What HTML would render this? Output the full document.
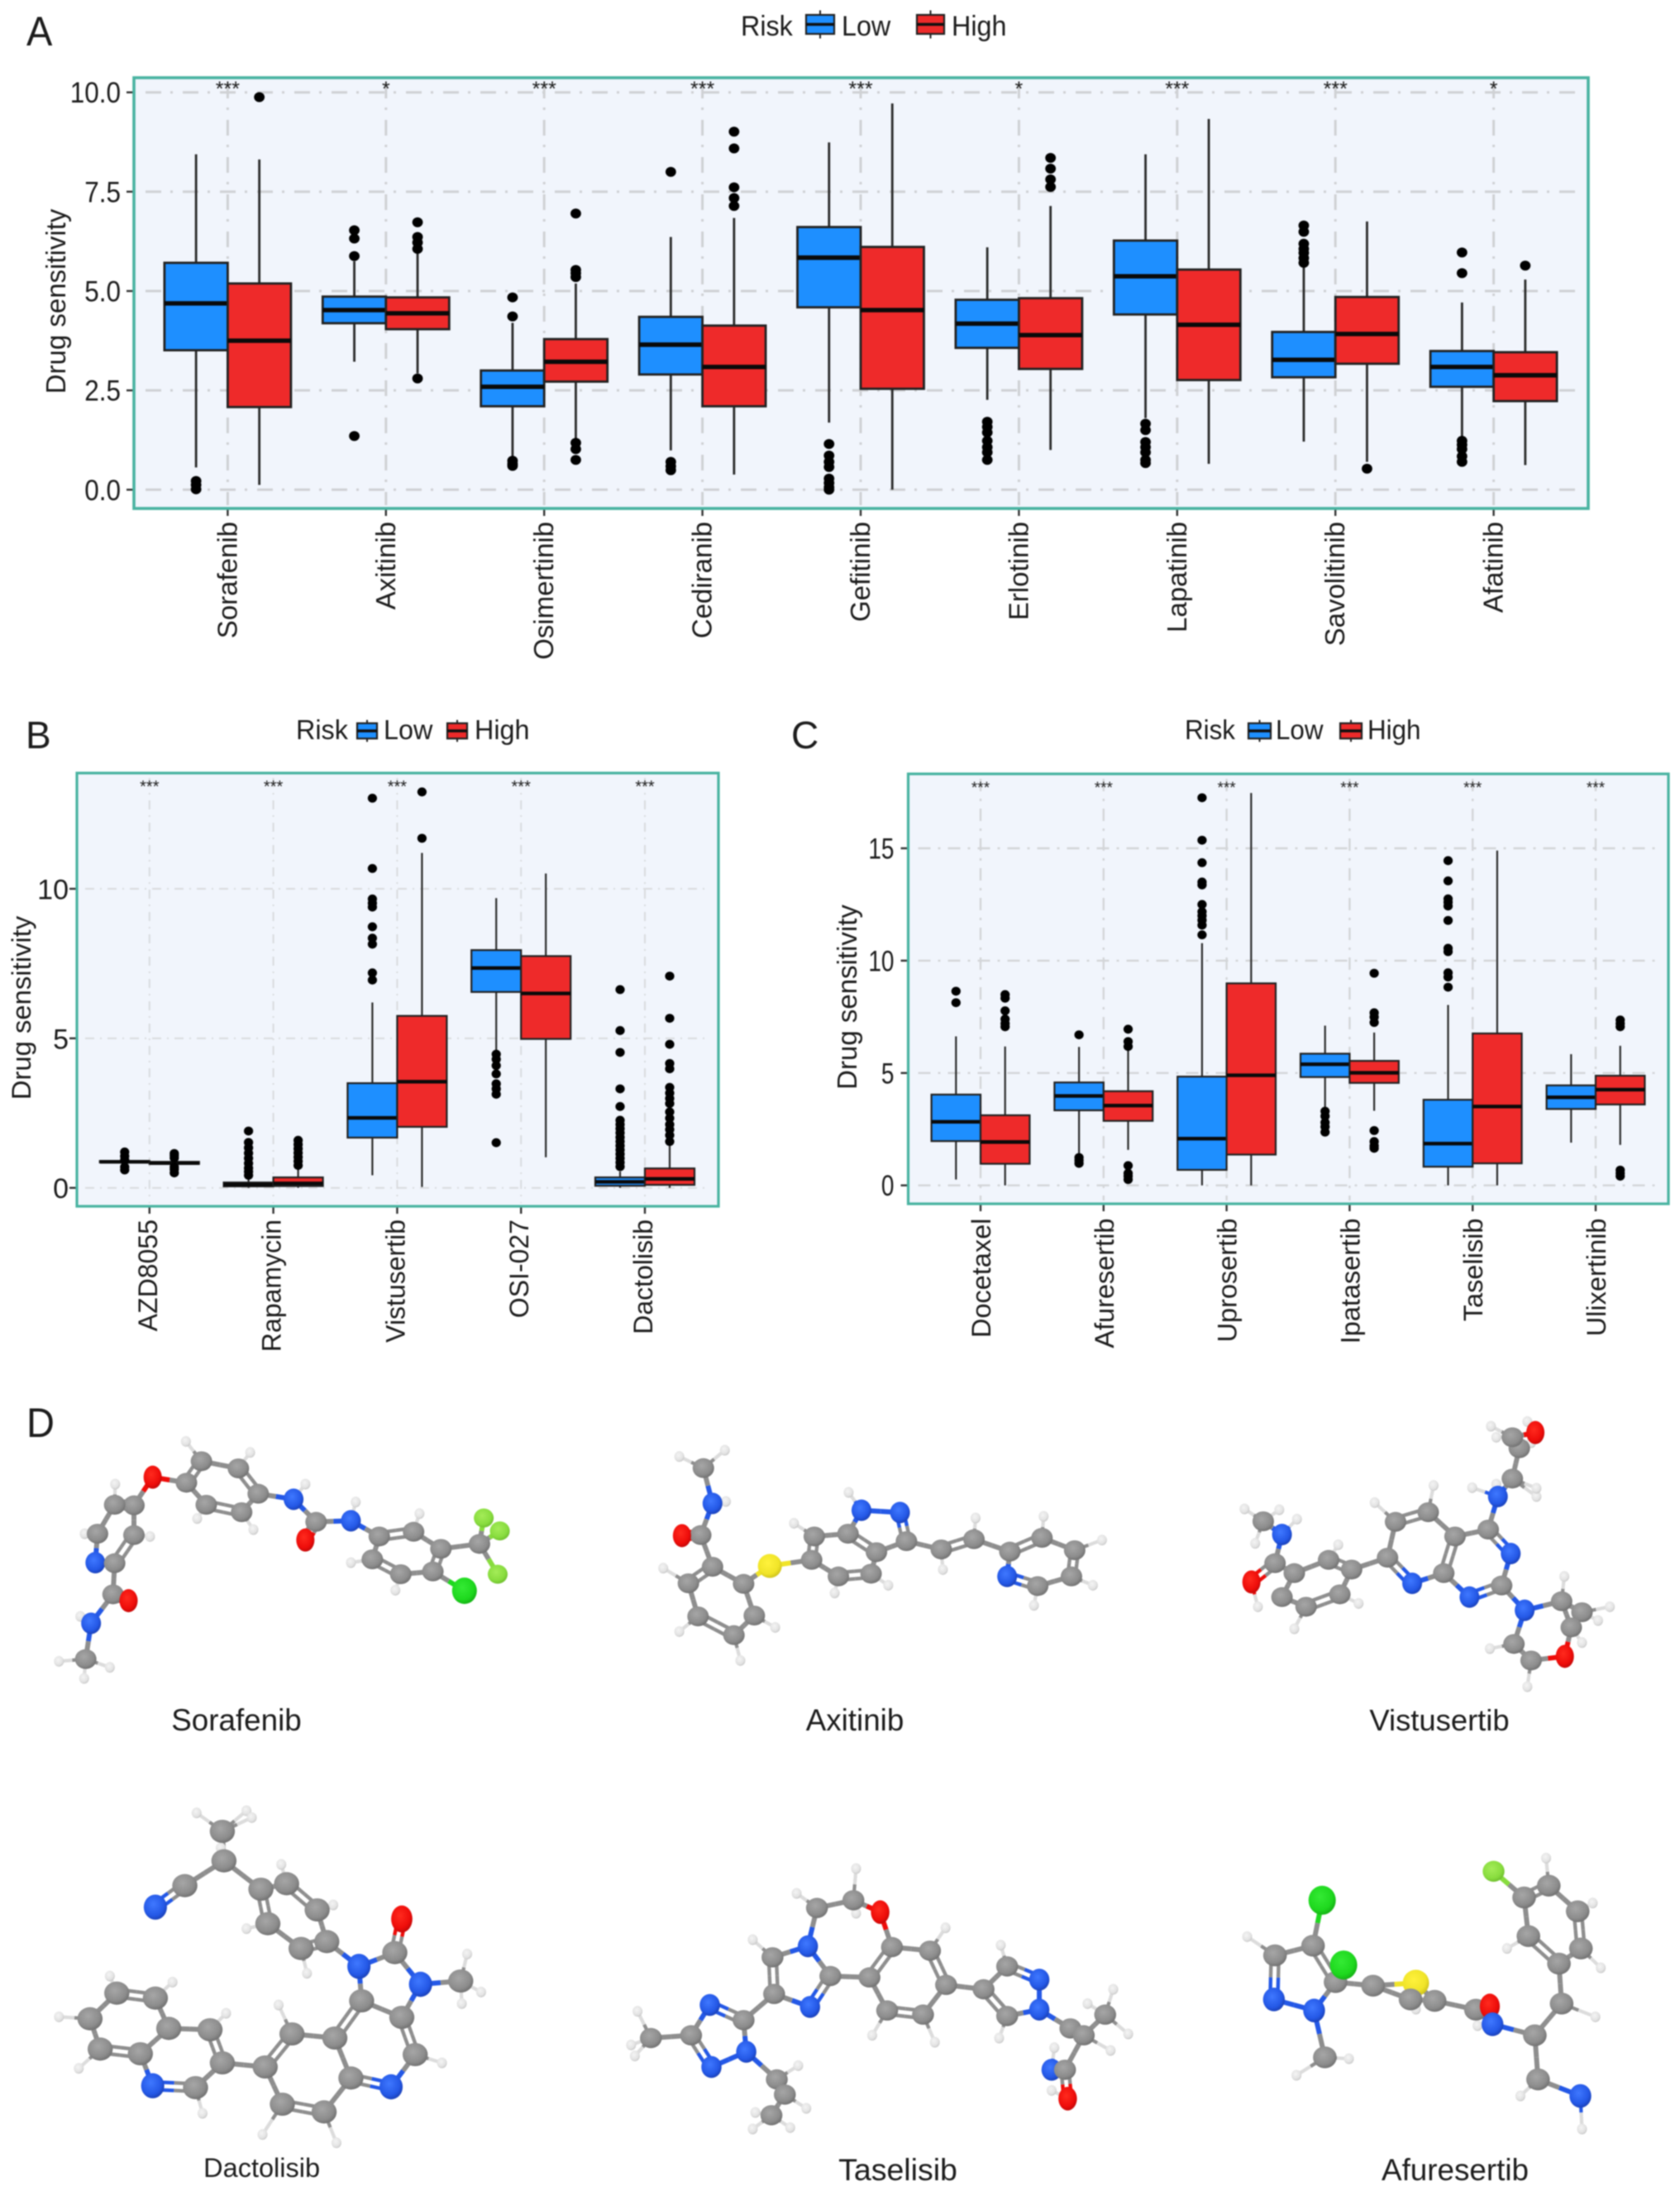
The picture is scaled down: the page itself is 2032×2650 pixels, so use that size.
<!DOCTYPE html>
<html lang="en">
<head>
<meta charset="utf-8">
<title>Drug sensitivity by risk group and molecular structures</title>
<style>
html,body{margin:0;padding:0;background:#fff;}
#figure{display:block;width:2032px;height:2650px;font-family:"Liberation Sans",sans-serif;filter:blur(0.7px);}
text{font-family:"Liberation Sans",sans-serif;fill:#1c1c1c;}
</style>
</head>
<body>
<svg id="figure" xmlns="http://www.w3.org/2000/svg" width="2032" height="2650" viewBox="0 0 2032 2650">
<defs>
<radialGradient id="g-C" cx="42%" cy="38%" r="65%"><stop offset="0" stop-color="#a6a6a6"/><stop offset="0.7" stop-color="#8c8c8c"/><stop offset="1" stop-color="#6e6e6e"/></radialGradient>
<radialGradient id="g-N" cx="42%" cy="38%" r="65%"><stop offset="0" stop-color="#3f78ff"/><stop offset="0.7" stop-color="#2458e6"/><stop offset="1" stop-color="#1a3fb4"/></radialGradient>
<radialGradient id="g-O" cx="42%" cy="38%" r="65%"><stop offset="0" stop-color="#ff2a1e"/><stop offset="0.7" stop-color="#ee0d0a"/><stop offset="1" stop-color="#c00808"/></radialGradient>
<radialGradient id="g-F" cx="42%" cy="38%" r="65%"><stop offset="0" stop-color="#a4ec58"/><stop offset="0.7" stop-color="#88dc3e"/><stop offset="1" stop-color="#6cbc2c"/></radialGradient>
<radialGradient id="g-Cl" cx="42%" cy="38%" r="65%"><stop offset="0" stop-color="#34ea34"/><stop offset="0.7" stop-color="#1ed81e"/><stop offset="1" stop-color="#14ae14"/></radialGradient>
<radialGradient id="g-S" cx="42%" cy="38%" r="65%"><stop offset="0" stop-color="#fff23c"/><stop offset="0.7" stop-color="#f0e428"/><stop offset="1" stop-color="#ccc01c"/></radialGradient>
<radialGradient id="g-H" cx="42%" cy="38%" r="65%"><stop offset="0" stop-color="#f4f4f4"/><stop offset="0.7" stop-color="#e2e2e2"/><stop offset="1" stop-color="#c4c4c4"/></radialGradient>
</defs>
<g id="panels"></g>
<g id="molecules"></g>
</svg>
<script>
/* ---------- Panel A data ---------- */
const drugsA = ['Sorafenib','Axitinib','Osimertinib','Cediranib','Gefitinib','Erlotinib','Lapatinib','Savolitinib','Afatinib'];
const sigA = ['***','*','***','***','***','*','***','***','*'];
const ticksA = [0,2.5,5,7.5,10];
const tickLabelsA = ['0.0','2.5','5.0','7.5','10.0'];
/* each row: whisker low, q1, median, q3, whisker high */
const lowA = [[0.56,3.51,4.69,5.71,8.44],[3.22,4.19,4.52,4.86,5.75],[0.8,2.10,2.59,3.0,4.2],[0.99,2.9,3.65,4.35,6.36],[1.69,4.59,5.84,6.61,8.74],[2.26,3.57,4.18,4.78,6.1],[1.8,4.41,5.37,6.27,8.44],[1.21,2.83,3.27,3.97,5.62],[1.28,2.59,3.09,3.49,4.71]];
const highA = [[0.12,2.08,3.75,5.19,8.31],[2.93,4.04,4.44,4.84,5.95],[1.28,2.72,3.22,3.79,5.19],[0.38,2.1,3.09,4.13,6.84],[0,2.54,4.52,6.11,9.72],[1.0,3.04,3.89,4.82,7.14],[0.65,2.76,4.15,5.54,9.33],[0.7,3.17,3.92,4.85,6.75],[0.62,2.23,2.88,3.46,5.29]];
const lowOutA = [[0.22,0.12,0.01],[5.88,6.32,6.53,1.35],[4.84,4.36,0.73,0.65,0.6],[8.0,0.7,0.59,0.49],[1.15,0.86,0.7,0.57,0.28,0.17,0.06,0],[1.71,1.58,1.44,1.23,1.07,0.94,0.75],[1.66,1.5,1.2,1.07,0.94,0.75,0.67],[6.65,6.49,6.19,6.06,5.96,5.83,5.71],[5.97,5.45,1.23,1.13,1.02,0.84,0.7]];
const highOutA = [[9.88],[2.8,6.06,6.22,6.36,6.73],[6.95,5.53,5.45,5.35,1.18,1.02,0.75],[9.01,8.59,7.61,7.34,7.14],[],[8.35,8.08,7.81,7.62],[],[0.53],[5.64]];

/* ---------- Panel B data ---------- */
const drugsB = ['AZD8055','Rapamycin','Vistusertib','OSI-027','Dactolisib'];
const sigB = ['***','***','***','***','***'];
const ticksB = [0,5,10];
const tickLabelsB = ['0','5','10'];
const lowB = [[0.75,0.85,0.87,0.9,1.0],[0,0.05,0.11,0.18,0.35],[0.42,1.68,2.34,3.5,6.2],[4.58,6.55,7.35,7.95,9.69],[0,0.07,0.2,0.35,0.55]];
const highB = [[0.7,0.8,0.83,0.87,1.0],[0,0.06,0.15,0.35,0.62],[0.03,2.04,3.55,5.75,11.2],[1.02,4.98,6.5,7.75,10.51],[0,0.1,0.3,0.65,1.4]];
const lowOutB = [[1.2,1.06,0.93,0.7,0.6],[1.9,1.52,1.34,1.16,0.99,0.82,0.66,0.54,0.42],[13.03,10.68,9.66,9.52,9.39,8.73,8.35,8.15,7.19,6.95],[4.47,4.3,4.09,3.81,3.48,3.31,3.13,1.51],[6.63,5.26,4.53,3.31,2.72,2.26,2.12,1.98,1.84,1.69,1.55,1.41,1.27,1.13,0.99,0.85,0.71]];
const highOutB = [[1.15,1.08,1.0,0.7,0.62,0.5],[1.59,1.45,1.31,1.17,1.03,0.89,0.75],[13.24,11.69],[],[7.08,5.67,4.8,4.16,3.98,3.36,3.17,2.99,2.82,2.54,2.33,2.12,1.95,1.76,1.55]];

/* ---------- Panel C data ---------- */
const drugsC = ['Docetaxel','Afuresertib','Uprosertib','Ipatasertib','Taselisib','Ulixertinib'];
const sigC = ['***','***','***','***','***','***'];
const ticksC = [0,5,10,15];
const tickLabelsC = ['0','5','10','15'];
const lowC = [[0.26,1.97,2.83,4.04,6.63],[1.43,3.34,3.98,4.58,6.16],[0,0.69,2.08,4.84,10.78],[3.36,4.82,5.39,5.86,7.11],[0,0.83,1.86,3.81,8.03],[1.9,3.4,3.92,4.45,5.84]];
const highC = [[0,0.96,1.93,3.12,6.18],[1.58,2.87,3.55,4.19,6.0],[0,1.37,4.9,8.99,17.46],[3.32,4.56,5.01,5.54,6.8],[0,0.98,3.51,6.76,14.9],[1.8,3.6,4.26,4.88,6.21]];
const lowOutC = [[8.64,8.13],[6.7,1.24,1.11,0.98],[17.25,15.36,14.36,13.5,13.37,12.5,12.18,12.0,11.8,11.58,11.15],[3.3,3.08,2.8,2.61,2.37],[14.45,13.55,12.75,12.6,12.43,11.79,10.55,10.4,9.46,9.27,8.82],[]];
const highOutC = [[8.49,8.33,7.77,7.4,7.2,7.06],[6.95,6.4,6.18,0.88,0.54,0.41,0.26],[],[9.44,7.68,7.49,7.25,2.44,1.95,1.76,1.65],[],[7.36,7.2,7.06,0.68,0.54,0.41]];

const SVGNS = 'http://www.w3.org/2000/svg';
function make(tag, parent, attrs){
  const el = document.createElementNS(SVGNS, tag);
  for (const k in attrs) el.setAttribute(k, attrs[k]);
  parent.appendChild(el);
  return el;
}
function label(parent, str, x, y, size, anchor, rot, sx, name){
  const el = make('text', parent, {
    transform:'translate('+x+','+y+') rotate('+rot+') scale('+sx+',1)',
    'font-size':size,'text-anchor':anchor
  });
  el.textContent = str;
  
  
  return el;
}
function legend(parent, c){
  const g = make('g', parent, {});
  
  
  label(g,'Risk',c.riskX,c.base,c.fs,'start',0,c.fsx,'legend-title');
  [['Low','#1e8fff',c.lowKey,c.lowText],['High','#ee2a2a',c.highKey,c.highText]].forEach(function(e){
    const kx = e[2][0], kw = e[2][1], cy = c.keyCy, kh = c.keyH, mid = kx + kw/2;
    const key = make('g', g, {});
    
    
    make('line', key, {x1:mid,x2:mid,y1:cy-kh/2-c.keyW,y2:cy+kh/2+c.keyW,stroke:'#222','stroke-width':2});
    make('rect', key, {x:kx,y:cy-kh/2,width:kw,height:kh,fill:e[1],stroke:'#222','stroke-width':2.2});
    make('line', key, {x1:kx,x2:kx+kw,y1:cy,y2:cy,stroke:'#111','stroke-width':3.4});
    label(g,e[0],e[3],c.base,c.fs,'start',0,c.fsx,'legend-label-' + e[0].toLowerCase());
  });
}
function drawPanel(p){
  const root = document.getElementById('panels');
  const g = make('g', root, {});
  
  
  const y = function(v){ return p.y0 + (p.y1 - p.y0) * (v - p.ticks[0]) / (p.ticks[p.ticks.length-1] - p.ticks[0]); };
  const x = function(i){ return p.x0 + p.step * i; };
  const bg = make('rect', g, {x:p.L,y:p.T,width:p.R-p.L,height:p.B-p.T,fill:'#f1f5fc'});
  
  
  p.ticks.forEach(function(t,i){
    const gl = make('line', g, {x1:p.L+p.gridInset,x2:p.R-p.gridInset,y1:y(t),y2:y(t),stroke:p.gridColor,'stroke-width':p.gridW,'stroke-dasharray':p.dash});
    
    
    make('line', g, {x1:p.L-9,x2:p.L,y1:y(t),y2:y(t),stroke:'#333','stroke-width':2.4});
    label(g,p.labels[i],p.L-p.tickGap,y(t)+p.tickDy,p.tickFs,'end',0,p.tickSx,'y-tick-label');
  });
  p.drugs.forEach(function(d,i){
    const gl = make('line', g, {x1:x(i),x2:x(i),y1:p.T+6,y2:p.B-4,stroke:p.gridColor,'stroke-width':p.gridW,'stroke-dasharray':p.dash});
    
    
  });
  function box(row, out, cx, fill, nm){
    const whisker = make('line', g, {x1:cx,x2:cx,y1:y(row[0]),y2:y(row[4]),stroke:'#2a2a2a','stroke-width':p.boxW});
    
    
    const rect = make('rect', g, {x:cx-p.bw/2,y:y(row[3]),width:p.bw,height:y(row[1])-y(row[3]),fill:fill,stroke:'#222','stroke-width':p.boxW});
    
    
    const med = make('line', g, {x1:cx-p.bw/2,x2:cx+p.bw/2,y1:y(row[2]),y2:y(row[2]),stroke:'#0a0a0a','stroke-width':p.medW});
    
    
    out.forEach(function(v){
      const pt = make('ellipse', g, {cx:cx,cy:y(v),rx:p.dotR,ry:p.dotRy,fill:'#000'});
      
      
    });
  }
  p.drugs.forEach(function(d,i){
    box(p.low[i], p.lowOut[i], x(i)-p.bw/2, '#1e8fff', d.toLowerCase() + '-low');
    box(p.high[i], p.highOut[i], x(i)+p.bw/2, '#ee2a2a', d.toLowerCase() + '-high');
    label(g,p.sig[i],x(i),p.starY,p.starFs,'middle',0,1,'significance-marker');
    make('line', g, {x1:x(i),x2:x(i),y1:p.B,y2:p.B+9,stroke:'#333','stroke-width':2.4});
    label(g,d,x(i)+p.xLabDx,p.xLabY,p.xLabFs,'end',-90,1,'x-tick-label');
  });
  const frame = make('rect', g, {x:p.L,y:p.T,width:p.R-p.L,height:p.B-p.T,fill:'none',stroke:'#49b3a1','stroke-width':p.frameW});
  
  
  label(g,'Drug sensitivity',p.yTitleX,p.yTitleY,p.yTitleFs,'middle',-90,1,'y-axis-title');
  label(g,p.letter,p.letterX,p.letterY,p.letterFs,'start',0,p.letterSx,'panel-letter');
  legend(g,p.legend);
}
drawPanel({name:'panel-a',letter:'A',letterX:32,letterY:55,letterFs:50,letterSx:.94,
  L:162,R:1921,T:94,B:615,x0:275.4,step:191.4,bw:76.5,y0:592.3,y1:111.7,
  drugs:drugsA,sig:sigA,ticks:ticksA,labels:tickLabelsA,low:lowA,high:highA,lowOut:lowOutA,highOut:highOutA,
  gridInset:14,gridColor:'#cfd1d4',gridW:3,dash:'19 11 3 12',boxW:2.8,medW:5.4,dotR:6.4,dotRy:6,
  tickGap:16,tickDy:12.5,tickFs:35,tickSx:.9,starY:116,starFs:25,xLabDx:11,xLabY:631,xLabFs:33,
  yTitleX:79,yTitleY:364.5,yTitleFs:33,frameW:3.6,
  legend:{riskX:896,base:43,fs:34,fsx:.95,keyCy:29.5,keyH:23,keyW:5.5,lowKey:[975,34],highKey:[1109,33],lowText:1018,highText:1151}});
drawPanel({name:'panel-b',letter:'B',letterX:31,letterY:905,letterFs:46,letterSx:1,
  L:93,R:869,T:935,B:1459,x0:180.8,step:149.8,bw:60,y0:1436.7,y1:1075,
  drugs:drugsB,sig:sigB,ticks:ticksB,labels:tickLabelsB,low:lowB,high:highB,lowOut:lowOutB,highOut:highOutB,
  gridInset:10,gridColor:'#d9dbde',gridW:2,dash:'11 7 2 7',boxW:2.2,medW:4.4,dotR:5.6,dotRy:5.4,
  tickGap:10,tickDy:12.5,tickFs:34,tickSx:1,starY:958,starFs:20,xLabDx:9,xLabY:1475,xLabFs:32,
  yTitleX:37,yTitleY:1219,yTitleFs:32.8,frameW:3.2,
  legend:{riskX:358,base:894,fs:33,fsx:.98,keyCy:884,keyH:18.5,keyW:4,lowKey:[432,24],highKey:[541,24],lowText:464,highText:574}});
drawPanel({name:'panel-c',letter:'C',letterX:957,letterY:905,letterFs:46,letterSx:1,
  L:1098.5,R:2018,T:936,B:1456,x0:1186,step:148.8,bw:59.4,y0:1433.7,y1:1026,
  drugs:drugsC,sig:sigC,ticks:ticksC,labels:tickLabelsC,low:lowC,high:highC,lowOut:lowOutC,highOut:highOutC,
  gridInset:12,gridColor:'#d3d5d8',gridW:2.4,dash:'15 9 3 9',boxW:2.2,medW:4.4,dotR:5.6,dotRy:5.4,
  tickGap:17,tickDy:12.5,tickFs:35,tickSx:.8,starY:959,starFs:19,xLabDx:12,xLabY:1473.5,xLabFs:32.5,
  yTitleX:1036,yTitleY:1206,yTitleFs:33,frameW:3.2,
  legend:{riskX:1433,base:894,fs:33,fsx:.95,keyCy:884,keyH:18.5,keyW:4,lowKey:[1510,27],highKey:[1621,26],lowText:1543,highText:1654}});

/* ---------- Panel D: ball-and-stick molecule illustrations ---------- */
const atomSize = {C:[13,12],N:[12,13],O:[11,14],F:[12,11.5],Cl:[15,16],S:[14.5,14.5],H:[6,6.5]};
const atomColor = {C:'#8e8e8e',N:'#2458e6',O:'#ee0d0a',F:'#88dc3e',Cl:'#1ed81e',S:'#f0e428',H:'#d6d6d6'};
const molecules = [
 {name:'sorafenib',base:1680,ox:0,scale:1,label:'Sorafenib',lx:286,ly:2093,lf:36.8,
  atoms:[['C',376,262],['C',445,288],['C',482,380],['C',451,447],['C',385,420],['C',348,340],['O',285,320],['C',250,422],['C',214,420],['C',182,525],['N',178,630],['C',214,632],['C',250,530],['C',211,745],['O',240,768],['N',170,850],['C',160,980],['N',548,400],['C',590,482],['O',570,548],['N',655,478],['C',708,535],['C',772,518],['C',823,580],['C',808,662],['C',748,672],['C',695,618],['C',895,562],['F',903,468],['F',933,515],['F',929,672],['Cl',867,732]],
  chains:[[0,1,2,3,4,5,0],[5,6,7,8,9,10,11,12,7],[11,13,14],[13,15,16],[2,17,18,19],[18,20,21,22,23,24,25,26,21],[23,27,28],[27,29],[27,30],[24,31]],
  dbl:[[0,5],[1,2],[3,4],[7,8],[11,12],[13,14],[18,19],[21,22],[23,24],[25,26]],
  h:[[347,190],[467,230],[570,345],[664,410],[215,345],[158,525],[280,535],[368,470],[473,510],[783,452],[655,630],[738,730],[150,825],[110,988],[205,1010],[157,1050]]},
 {name:'axitinib',base:1680,ox:0,scale:1,label:'Axitinib',lx:1034,ly:2093,lf:36.8,
  atoms:[['C',1313,287],['N',1330,415],['C',1308,530],['O',1273,532],['C',1330,645],['C',1285,705],['C',1303,825],['C',1370,893],['C',1408,822],['C',1388,707],['S',1437,642],['C',1515,620],['C',1520,535],['C',1583,525],['C',1636,592],['C',1626,670],['C',1565,680],['N',1608,440],['N',1680,448],['C',1692,552],['C',1757,582],['C',1818,545],['C',1885,590],['C',1945,540],['C',2006,585],['C',2000,680],['C',1937,715],['N',1880,680]],
  chains:[[0,1,2,3],[2,4,5,6,7,8,9,4],[9,10,11,12,13,14,15,16,11],[13,17,18,19,14],[19,20,21,22,23,24,25,26,27,22]],
  dbl:[[2,3],[4,5],[6,7],[11,12],[13,14],[15,16],[18,19],[20,21],[22,23],[24,25],[26,27]],
  h:[[1353,222],[1268,245],[1355,408],[1238,650],[1268,880],[1382,985],[1447,865],[1482,487],[1658,712],[1558,740],[1584,375],[1760,655],[1821,468],[1948,462],[2057,548],[2040,712],[1930,785]]},
 {name:'vistusertib',base:1680,ox:1568,scale:1,label:'Vistusertib',lx:1741,ly:2093,lf:36.4,
  atoms:[['C',790,480],['N',825,528],['C',812,632],['O',768,700],['C',848,668],['C',912,620],['C',955,655],['C',933,745],['C',870,790],['C',825,755],['C',1022,612],['C',1037,482],['C',1098,447],['C',1148,535],['C',1127,668],['N',1068,705],['C',1210,510],['N',1252,597],['C',1235,713],['N',1175,755],['N',1228,390],['C',1255,325],['C',1268,215],['C',1255,175],['O',1298,158],['N',1278,803],['C',1347,770],['C',1385,810],['C',1365,865],['O',1353,970],['C',1290,985],['C',1258,925]],
  chains:[[0,1,2,3],[2,4,5,6,7,8,9,4],[6,10,11,12,13,14,15,10],[13,16,17,18,19,14],[16,20,21,22,23,24],[18,25,26,28,29,30,31,25],[26,27,28]],
  dbl:[[2,3],[5,6],[7,8],[11,12],[13,14],[10,15],[16,17],[18,19]],
  h:[[755,435],[820,438],[775,560],[853,472],[930,565],[968,778],[848,870],[780,790],[998,412],[1108,350],[1180,358],[1225,345],[1300,390],[1300,360],[1215,135],[1225,175],[1283,118],[1290,195],[1352,680],[1437,790],[1415,840],[1213,942],[1283,1080],[1385,920]]},
 {name:'dactolisib',base:2160,ox:0,scale:1.17,label:'Dactolisib',lx:316.6,ly:2633,lf:32.5,
  atoms:[['C',415,165],['C',418,272],['C',345,362],['N',290,440],['C',487,375],['C',535,355],['C',592,450],['C',610,565],['C',562,590],['C',500,500],['N',670,655],['C',737,605],['O',750,483],['N',785,720],['C',860,708],['C',675,780],['C',750,840],['C',775,975],['N',730,1092],['C',655,1060],['C',625,915],['C',545,900],['C',495,1020],['C',527,1155],['C',605,1183],['C',415,1005],['C',392,885],['C',315,880],['C',262,972],['N',285,1088],['C',365,1095],['C',290,770],['C',218,752],['C',168,845],['C',187,955]],
  chains:[[0,1,2,3],[1,4,5,6,7,8,9,4],[7,10,11,12],[11,13,14],[13,16,15,10],[15,20,19,18,17,16],[20,21,22,23,24,19],[22,25,26,27,28,29,30,25],[27,31,32,33,34,28]],
  dbl:[[2,3],[5,6],[4,9],[7,8],[11,12],[15,20],[16,17],[18,19],[21,22],[23,24],[25,26],[29,30],[28,34],[31,32]],
  h:[[367,98],[460,90],[470,115],[412,225],[525,285],[622,432],[460,518],[573,680],[872,610],[898,748],[862,790],[825,1005],[520,795],[490,1265],[628,1295],[422,825],[378,1188],[322,712],[205,690],[110,838],[147,1025]]},
 {name:'taselisib',base:2160,ox:0,scale:1.02,label:'Taselisib',lx:1086,ly:2637,lf:37.5,
  atoms:[['C',1525,443],['N',1508,582],['C',1442,622],['C',1445,755],['N',1512,802],['C',1550,690],['C',1388,850],['N',1325,795],['C',1290,905],['N',1328,1020],['N',1393,965],['C',1215,915],['C',1450,1065],['C',1465,1120],['C',1440,1195],['C',1593,415],['O',1643,458],['C',1665,585],['C',1736,598],['C',1766,722],['C',1723,830],['C',1656,815],['C',1623,695],['C',1836,738],['C',1880,655],['N',1940,703],['N',1940,812],['C',1880,835],['C',1998,880],['C',2023,905],['C',2063,830],['N',1963,1030],['C',1988,1030],['O',1993,1135]],
  chains:[[1,0,15,16,17,18,19,20,21,22,17],[1,2,3,4,5,1],[3,6,7,8,9,10,6],[8,11],[10,12,13,14],[5,22],[19,23,24,25,26,27,23],[26,28,29,30],[29,32,33],[32,31]],
  dbl:[[2,3],[4,5],[6,7],[8,9],[17,22],[18,19],[20,21],[23,27],[24,25],[32,33]],
  h:[[1487,390],[1405,558],[1190,818],[1185,980],[1178,940],[1490,1015],[1505,1170],[1405,1245],[1475,1240],[1410,1185],[1598,300],[1598,462],[1765,515],[1628,905],[1745,930],[1868,578],[1865,915],[2030,790],[2078,738],[2106,900],[2073,960],[1968,950],[1963,1105]]},
 {name:'afuresertib',base:2160,ox:1568,scale:1.1,label:'Afuresertib',lx:1760,ly:2637,lf:36.8,
  atoms:[['C',812,615],['C',883,580],['Cl',900,415],['C',925,712],['N',885,815],['N',810,775],['C',905,985],['Cl',940,650],['C',995,725],['S',1075,715],['C',1065,775],['C',1110,780],['C',1187,812],['O',1213,800],['N',1218,865],['C',1297,905],['C',1347,790],['C',1303,1065],['N',1382,1125],['C',1342,645],['C',1285,545],['C',1277,405],['C',1323,362],['C',1377,455],['C',1383,590],['F',1220,310]],
  chains:[[0,1,3,4,5,0],[1,2],[4,6],[3,8,9,11,10,8],[11,12,13],[12,14,15,16,19,20,21,22,23,24,19],[15,17,18],[21,25]],
  dbl:[[0,5],[1,3],[12,13],[19,20],[21,22],[23,24]],
  h:[[760,547],[852,1050],[950,990],[1075,810],[1190,870],[1410,838],[1270,1125],[1385,1245],[1318,262],[1405,425],[1420,660],[1245,590]]}
];
function drawMolecule(m){
  const root = document.getElementById('molecules');
  const g = make('g', root, {});
  
  
  const X = function(px){ return (px + m.ox) / 1.5433; };
  const Y = function(py){ return m.base + py / 3; };
  function stick(x1,y1,x2,y2,c1,c2,w){
    const mx = (x1+x2)/2, my = (y1+y2)/2;
    make('line', g, {x1:x1,y1:y1,x2:mx,y2:my,stroke:c1,'stroke-width':w});
    make('line', g, {x1:mx,y1:my,x2:x2,y2:y2,stroke:c2,'stroke-width':w});
  }
  const isDouble = function(a,b){ return m.dbl.some(function(d){ return (d[0]===a&&d[1]===b)||(d[0]===b&&d[1]===a); }); };
  m.h.forEach(function(h){
    let best = 0, bd = 1e9;
    m.atoms.forEach(function(a,i){
      const dx = X(a[1])-X(h[0]), dy = Y(a[2])-Y(h[1]), dd = dx*dx+dy*dy;
      if (dd < bd){ bd = dd; best = i; }
    });
    const a = m.atoms[best];
    stick(X(h[0]),Y(h[1]),X(a[1]),Y(a[2]),'#dcdcdc',atomColor[a[0]],4.2);
  });
  m.chains.forEach(function(ch){
    for (let i = 0; i < ch.length-1; i++){
      const a = m.atoms[ch[i]], b = m.atoms[ch[i+1]];
      const x1 = X(a[1]), y1 = Y(a[2]), x2 = X(b[1]), y2 = Y(b[2]);
      if (isDouble(ch[i],ch[i+1])){
        const dx = x2-x1, dy = y2-y1, L = Math.hypot(dx,dy), ox = -dy/L*4.6, oy = dx/L*4.6;
        stick(x1+ox,y1+oy,x2+ox,y2+oy,atomColor[a[0]],atomColor[b[0]],4.4);
        stick(x1-ox,y1-oy,x2-ox,y2-oy,atomColor[a[0]],atomColor[b[0]],4.4);
      } else {
        stick(x1,y1,x2,y2,atomColor[a[0]],atomColor[b[0]],6);
      }
    }
  });
  m.h.forEach(function(h){
    const ball = make('ellipse', g, {cx:X(h[0]),cy:Y(h[1]),rx:atomSize.H[0],ry:atomSize.H[1],fill:'url(#g-H)'});
    
    
  });
  m.atoms.forEach(function(a){
    const s = atomSize[a[0]];
    const ball = make('ellipse', g, {cx:X(a[1]),cy:Y(a[2]),rx:s[0]*m.scale,ry:s[1]*m.scale,fill:'url(#g-'+a[0]+')'});
    
    
  });
  label(g,m.label,m.lx,m.ly,m.lf,'middle',0,1,'molecule-label');
}
molecules.forEach(drawMolecule);
label(document.getElementById('molecules'),'D',32,1738,50,'start',0,.94,'panel-letter');
</script>
</body>
</html>
